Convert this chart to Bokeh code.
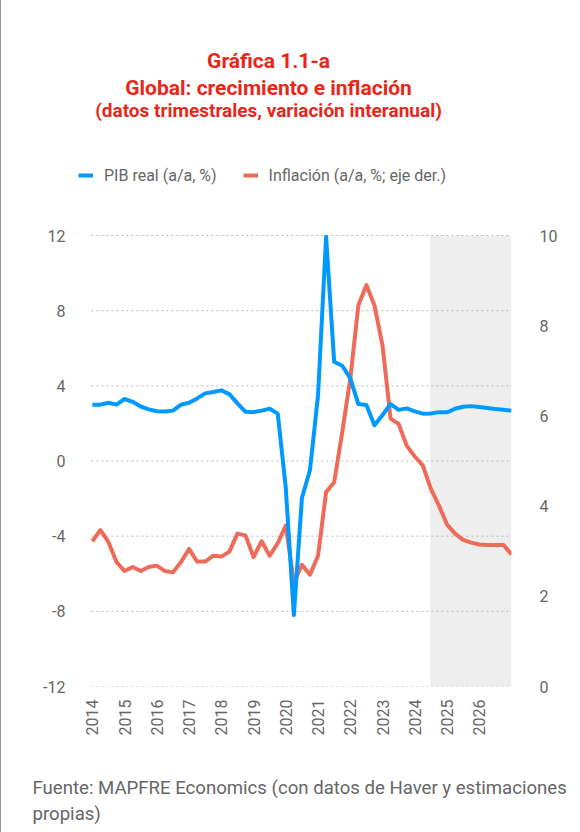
import math
from bokeh.plotting import figure
from bokeh.models import (Range1d, LinearAxis, FixedTicker, BoxAnnotation, Label,
                          Legend, LegendItem, Title)
from bokeh.embed import file_html
from bokeh.resources import INLINE

# ---------------- data (quarterly, 2014Q1 .. 2027Q1) ----------------
years = [2014, 2015, 2016, 2017, 2018, 2019, 2020, 2021, 2022, 2023, 2024, 2025, 2026]
quarter_idx = list(range(53))

pib_real = [3.0, 3.0, 3.1, 3.0, 3.3, 3.15, 2.9, 2.75, 2.65, 2.63, 2.68, 3.0,
            3.1, 3.33, 3.6, 3.67, 3.76, 3.56, 3.07, 2.62, 2.6, 2.68, 2.78, 2.52,
            -1.44, -8.2, -1.97, -0.48, 3.5, 11.93, 5.28, 5.07, 4.4, 3.03, 2.98, 1.9,
            2.45, 3.03, 2.72, 2.8, 2.64, 2.52, 2.53, 2.6, 2.59, 2.78, 2.89, 2.92,
            2.87, 2.82, 2.77, 2.73, 2.68]

inflacion = [3.22, 3.47, 3.2, 2.76, 2.56, 2.65, 2.56, 2.65, 2.68, 2.56, 2.53, 2.76,
             3.05, 2.77, 2.77, 2.9, 2.88, 2.99, 3.39, 3.35, 2.87, 3.22, 2.9, 3.18,
             3.57, 2.3, 2.7, 2.48, 2.9, 4.31, 4.53, 5.64, 6.82, 8.45, 8.9, 8.45,
             7.56, 5.94, 5.82, 5.34, 5.1, 4.9, 4.38, 4.01, 3.59, 3.39, 3.25, 3.19,
             3.15, 3.14, 3.14, 3.14, 2.93]

forecast_start = 41.93   # shaded forecast region start (quarter index)

left_ticks = [-12, -8, -4, 0, 4, 8, 12]
right_ticks = [0, 2, 4, 6, 8, 10]
left_lim = (-12, 12)
right_lim = (0, 10)

# ---------------- layout ----------------
W, H = 579, 832
BL, BR, BT, BB = 69, 69, 30, 146
frame_h = H - BT - BB                 # 656
plot_h = 451                          # height of the -12..12 area
top_left = left_lim[0] + (left_lim[1] - left_lim[0]) * frame_h / plot_h
top_right = right_lim[0] + (right_lim[1] - right_lim[0]) * frame_h / plot_h

FONT = "Roboto"
BLUE = "#0099ff"
RED = "#ee6b5a"
TITLE_RED = "#e8261a"
GRAY = "#666666"

p = figure(width=W, height=H, title=None,
           x_range=Range1d(-2.71, 52), y_range=Range1d(left_lim[0], top_left),
           output_backend="svg", toolbar_location=None,
           min_border_left=BL, min_border_right=BR,
           min_border_top=BT, min_border_bottom=BB)
p.styles = {"border-left": "1px solid #999999"}
p.extra_y_ranges = {"right": Range1d(right_lim[0], top_right)}
p.outline_line_color = None
p.background_fill_color = "white"
p.border_fill_color = "white"
p.xgrid.visible = False
p.ygrid.visible = False

# shaded forecast area
p.add_layout(BoxAnnotation(left=forecast_start, top=left_lim[1], fill_color="#eeeeee",
                           fill_alpha=1, line_color=None, level="image"))

# dotted horizontal grid lines at the left-axis ticks
p.segment(x0=[-0.12] * len(left_ticks), y0=left_ticks,
          x1=[52] * len(left_ticks), y1=left_ticks,
          line_color="#bbbbbb", line_dash="2 3", line_width=1)

# left axis
p.yaxis.ticker = FixedTicker(ticks=left_ticks)
ax = p.yaxis[0]
ax.major_label_overrides = {t: str(t) for t in left_ticks}
ax.axis_line_color = None
ax.major_tick_line_color = None
ax.minor_tick_line_color = None
ax.major_label_text_font = FONT
ax.major_label_text_font_size = "16px"
ax.major_label_text_color = GRAY
ax.major_label_standoff = -1

# right axis
rax = LinearAxis(y_range_name="right", ticker=FixedTicker(ticks=right_ticks))
rax.axis_line_color = None
rax.major_tick_line_color = None
rax.minor_tick_line_color = None
rax.major_label_text_font = FONT
rax.major_label_text_font_size = "16px"
rax.major_label_text_color = GRAY
rax.major_label_standoff = 22
p.add_layout(rax, "right")

# x axis
xax = p.xaxis[0]
xax.ticker = FixedTicker(ticks=[4 * i for i in range(len(years))])
xax.major_label_overrides = {4 * i: str(y) for i, y in enumerate(years)}
xax.major_label_orientation = math.pi / 2
xax.axis_line_color = None
xax.major_tick_line_color = None
xax.minor_tick_line_color = None
xax.major_label_text_font = FONT
xax.major_label_text_font_size = "16px"
xax.major_label_text_color = GRAY
xax.major_label_standoff = 7

# lines
r_inf = p.line(quarter_idx, inflacion, line_color=RED, line_width=4,
               y_range_name="right", line_join="round")
r_pib = p.line(quarter_idx, pib_real, line_color=BLUE, line_width=4, line_join="round")

legend = Legend(items=[LegendItem(label="PIB real (a/a, %)", renderers=[r_pib]),
                       LegendItem(label="Inflación (a/a, %; eje der.)", renderers=[r_inf])],
                orientation="horizontal", location=(8, 501),
                glyph_width=15, glyph_height=20, label_height=20,
                label_standoff=11, spacing=26, padding=0, margin=0,
                label_text_font=FONT, label_text_font_size="16px",
                label_text_color=GRAY, border_line_color=None,
                background_fill_alpha=0)
p.add_layout(legend, "center")

# titles (frame-relative screen coordinates)
title_lines = [("Gráfica 1.1-a", 626, "21px"),
               ("Global: crecimiento e inflación", 599, "21px"),
               ("(datos trimestrales, variación interanual)", 576, "19px")]
for txt, yy, fs in title_lines:
    p.add_layout(Label(x=198, y=yy, x_units="screen", y_units="screen", text=txt,
                       text_align="center", text_baseline="alphabetic",
                       text_font=FONT, text_font_size=fs,
                       text_font_style="bold", text_color=TITLE_RED))

# source note (below the axis); a blank title first leaves the gap under the years
p.add_layout(Title(text=" ", standoff=13, text_font=FONT, text_font_size="16px"), "below")
p.add_layout(Title(text="Fuente: MAPFRE Economics (con datos de Haver y estimaciones",
                   align="left", offset=-38, standoff=4, text_font=FONT,
                   text_font_size="18.6px", text_font_style="normal",
                   text_color=GRAY), "below")
p.add_layout(Title(text="propias)", align="left", offset=-38, standoff=0,
                   text_font=FONT, text_font_size="18.6px", text_font_style="normal",
                   text_color=GRAY), "below")

open("out.html", "w").write(file_html(p, INLINE))
